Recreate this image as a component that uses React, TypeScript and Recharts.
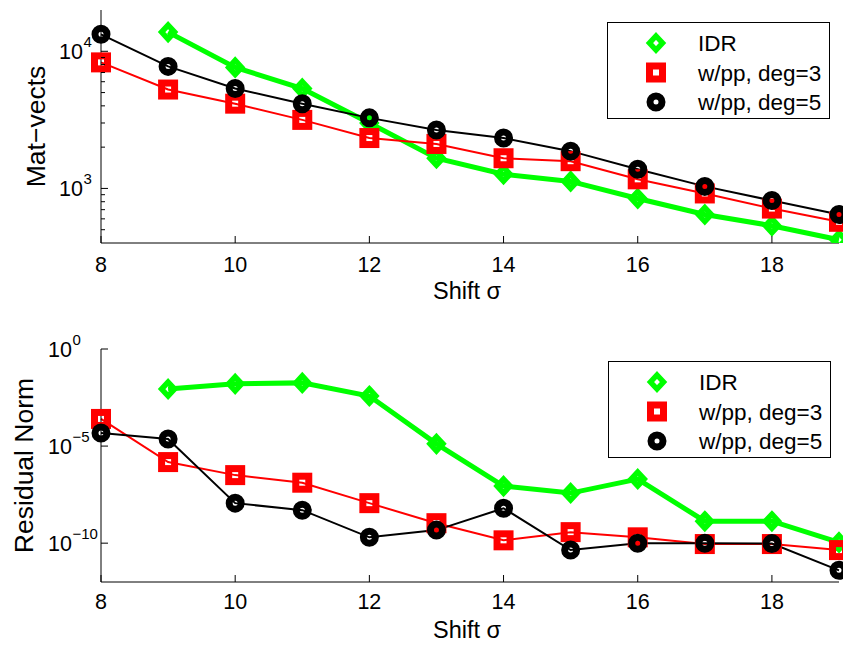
import { Legend, Line, LineChart, XAxis, YAxis } from 'recharts'

const FONT = '"Liberation Sans", Arial, Helvetica, sans-serif'
const GREEN = '#00ff00'
const RED = '#ff0000'
const BLACK = '#000000'

// shift values on the x axis
const shifts = [8, 9, 10, 11, 12, 13, 14, 15, 16, 17, 18, 19]

// top panel: number of mat-vects
const matvecIdr = [null, 13800, 7630, 5350, 3000, 1660, 1270, 1125, 844, 645, 535, 422]
const matvecDeg3 = [8300, 5260, 4150, 3160, 2330, 2110, 1660, 1580, 1165, 919, 713, 571]
const matvecDeg5 = [13300, 7760, 5350, 4150, 3270, 2670, 2330, 1870, 1380, 1035, 816, 645]

// bottom panel: residual norm
const residIdr = [null, 8.7e-3, 1.6e-2, 1.8e-2, 3.8e-3, 1.3e-5, 8.7e-8, 3.8e-8, 2e-7, 1.35e-9, 1.35e-9, 1.1e-10]
const residDeg3 = [2.5e-4, 1.5e-6, 3.2e-7, 1.3e-7, 1.15e-8, 1.07e-9, 1.4e-10, 3.7e-10, 2e-10, 9e-11, 9e-11, 4.4e-11]
const residDeg5 = [4.7e-5, 2.3e-5, 1.15e-8, 5e-9, 2e-10, 4.7e-10, 6.3e-9, 4.4e-11, 1e-10, 1e-10, 9.5e-11, 4e-12]

// ticks
const xTicks = [8, 10, 12, 14, 16, 18]
const matvecTicks = [500, 600, 700, 800, 900, 1000, 2000, 3000, 4000, 5000, 6000, 7000, 8000, 9000, 10000]
const residTicks = [1e-10, 1e-5, 1]

const seriesNames = ['IDR', 'w/pp, deg=3', 'w/pp, deg=5']

const toRows = (a: (number | null)[], b: (number | null)[], c: (number | null)[]) =>
  shifts.map((s, i) => ({ shift: s, idr: a[i], deg3: b[i], deg5: c[i] }))

const Marker = ({ shape, cx, cy, color }: { shape: string; cx?: number; cy?: number; color: string }) => {
  if (cx == null || cy == null || isNaN(cx) || isNaN(cy)) return null
  if (shape === 'diamond') {
    return (
      <path
        d={`M${cx},${cy - 7} L${cx + 6.5},${cy} L${cx},${cy + 7} L${cx - 6.5},${cy} Z`}
        fill="none"
        stroke={color}
        strokeWidth={5.5}
        strokeLinejoin="miter"
      />
    )
  }
  if (shape === 'square') {
    return <rect x={cx - 6.5} y={cy - 6.5} width={13} height={13} fill="none" stroke={color} strokeWidth={7} />
  }
  return <circle cx={cx} cy={cy} r={6} fill="none" stroke={color} strokeWidth={7} />
}

const shapes = ['diamond', 'square', 'circle']
const colors = [GREEN, RED, BLACK]

const LegendBox = () => (
  <div style={{ width: 223, height: 97, boxSizing: 'border-box', border: '1px solid #000', background: '#fff' }}>
    <svg width={221} height={95} style={{ display: 'block' }}>
      {seriesNames.map((name, i) => {
        const cy = 20 + i * 29.5
        return (
          <g key={name}>
            <Marker shape={shapes[i]} cx={48} cy={cy} color={colors[i]} />
            <text x={90} y={cy + 8} fontSize={22.5} fontFamily={FONT} fill="#000">
              {name}
            </text>
          </g>
        )
      })}
    </svg>
  </div>
)

const expText = (e: number) => (e < 0 ? `\u2212${-e}` : `${e}`)

const LogTick = (props: any) => {
  const { x, y, payload, side, gap } = props
  const lg = Math.log10(payload.value)
  const exp = Math.round(lg)
  const major = Math.abs(lg - exp) < 1e-6
  const len = major ? 7 : 4
  if (side === 'right') {
    return <line x1={x} y1={y} x2={x - len} y2={y} stroke="#000" />
  }
  return (
    <g>
      <line x1={x} y1={y} x2={x + len} y2={y} stroke="#000" />
      {major && (
        <>
          <text x={x - gap} y={y + 7.5} textAnchor="end" fontSize={21.5} fontFamily={FONT} fill="#000">
            10
          </text>
          <text x={x - gap + 0.5} y={y - 4} textAnchor="start" fontSize={15} fontFamily={FONT} fill="#000">
            {expText(exp)}
          </text>
        </>
      )}
    </g>
  )
}

const XTick = (props: any) => {
  const { x, y, payload, side, labelDy } = props
  if (side === 'top') return <line x1={x} y1={y} x2={x} y2={y + 7} stroke="#000" />
  return (
    <g>
      <line x1={x} y1={y} x2={x} y2={y - 7} stroke="#000" />
      <text x={x} y={y + labelDy} textAnchor="middle" fontSize={21.5} fontFamily={FONT} fill="#000">
        {payload.value}
      </text>
    </g>
  )
}

interface PanelProps {
  rows: any[]
  yDomain: [number, number]
  yTicks: number[]
  yLabel: string
  height: number
  marginTop: number
  xAxisHeight: number
  yLabelX: number
  tickGap: number
  xLabelDy: number
  legendTop: number
  legendLeft: number
}

const Panel = ({ rows, yDomain, yTicks, yLabel, height, marginTop, xAxisHeight, yLabelX, tickGap, xLabelDy, legendTop, legendLeft }: PanelProps) => {
  const keys = ['idr', 'deg3', 'deg5']
  const widths = [5, 2, 2]
  return (
    <LineChart width={843} height={height} data={rows} margin={{ top: marginTop, right: 4, bottom: 0, left: 0 }}>
      <XAxis
        dataKey="shift"
        type="number"
        domain={[8, 19]}
        ticks={xTicks}
        interval={0}
        height={xAxisHeight}
        tickSize={0}
        tickMargin={0}
        tickLine={false}
        axisLine={{ stroke: '#000' }}
        tick={(p: any) => <XTick {...p} side="bottom" labelDy={xLabelDy} />}
        label={(p: any) => {
          const vb = p.viewBox || { x: 101, y: 0, width: 738, height: 0 }
          return (
            <text x={vb.x + vb.width / 2 - 3} y={vb.y + 56} textAnchor="middle" fontSize={23.5} fontFamily={FONT} fill="#000">
              Shift σ
            </text>
          )
        }}
      />
      <XAxis
        xAxisId="top"
        orientation="top"
        type="number"
        domain={[8, 19]}
        allowDataOverflow
        ticks={xTicks}
        interval={0}
        height={0}
        tickSize={0}
        tickMargin={0}
        tickLine={false}
        axisLine={{ stroke: '#000' }}
        tick={(p: any) => <XTick {...p} side="top" />}
      />
      <YAxis
        type="number"
        scale="log"
        domain={yDomain}
        allowDataOverflow
        ticks={yTicks}
        interval={0}
        width={101}
        tickSize={0}
        tickMargin={0}
        tickLine={false}
        axisLine={{ stroke: '#000' }}
        tick={(p: any) => <LogTick {...p} side="left" gap={tickGap} />}
        label={(p: any) => {
          const vb = p.viewBox || { x: 0, y: marginTop, width: 101, height: 233 }
          const cx = vb.x + yLabelX
          const cy = vb.y + vb.height / 2
          return (
            <text x={cx} y={cy} transform={`rotate(-90, ${cx}, ${cy})`} textAnchor="middle" fontSize={26.5} fontFamily={FONT} fill="#000">
              {yLabel}
            </text>
          )
        }}
      />
      <YAxis
        yAxisId="right"
        orientation="right"
        type="number"
        scale="log"
        domain={yDomain}
        allowDataOverflow
        ticks={yTicks}
        interval={0}
        width={0}
        tickSize={0}
        tickMargin={0}
        tickLine={false}
        axisLine={{ stroke: '#000' }}
        tick={(p: any) => <LogTick {...p} side="right" />}
      />
      <Legend
        layout="horizontal"
        verticalAlign="middle"
        align="center"
        wrapperStyle={{ left: legendLeft, top: legendTop, width: 223, height: 97 }}
        content={() => <LegendBox />}
      />
      {keys.map((k, i) => (
        <Line
          key={k}
          name={seriesNames[i]}
          type="linear"
          dataKey={k}
          stroke={colors[i]}
          strokeWidth={widths[i]}
          isAnimationActive={false}
          activeDot={false}
          dot={(p: any) => <Marker key={`${k}-${p.index}`} shape={shapes[i]} cx={p.cx} cy={p.cy} color={colors[i]} />}
        />
      ))}
    </LineChart>
  )
}

export default function App() {
  return (
    <div style={{ position: 'absolute', left: 0, top: 0, width: 843, height: 645, background: '#fff', fontFamily: FONT }}>
      <div style={{ position: 'absolute', left: 0, top: 0 }}>
        <Panel
          rows={toRows(matvecIdr, matvecDeg3, matvecDeg5)}
          yDomain={[400, 20000]}
          yTicks={matvecTicks}
          yLabel="Mat−vects"
          height={320}
          marginTop={10}
          xAxisHeight={77}
          yLabelX={45}
          tickGap={18}
          xLabelDy={29}
          legendTop={22}
          legendLeft={607}
        />
      </div>
      <div style={{ position: 'absolute', left: 0, top: 320 }}>
        <Panel
          rows={toRows(residIdr, residDeg3, residDeg5)}
          yDomain={[1e-12, 1]}
          yTicks={residTicks}
          yLabel="Residual Norm"
          height={325}
          marginTop={29}
          xAxisHeight={63}
          yLabelX={33}
          tickGap={29}
          xLabelDy={27}
          legendTop={41}
          legendLeft={608}
        />
      </div>
    </div>
  )
}
